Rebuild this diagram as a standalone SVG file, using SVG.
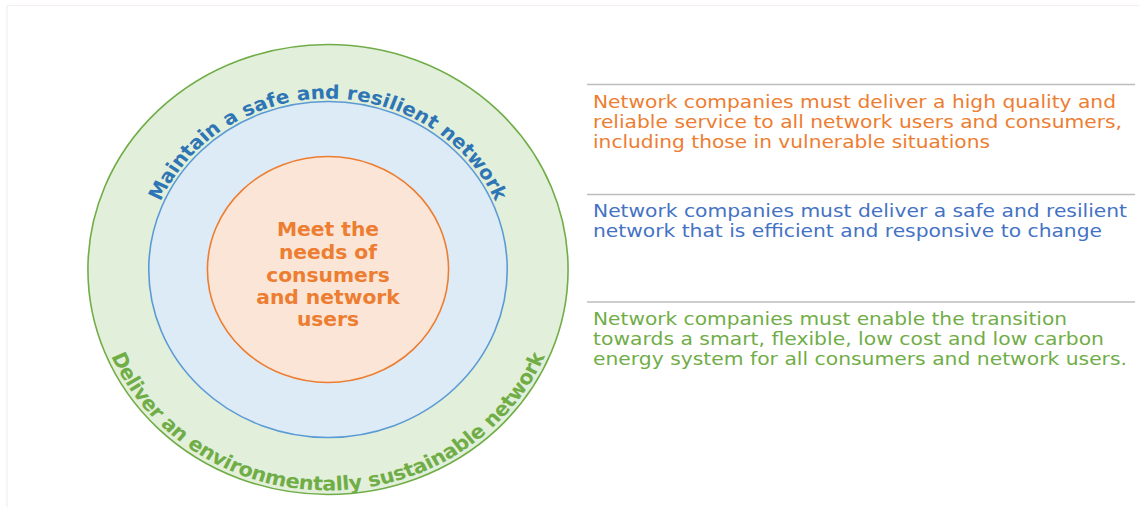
<svg xmlns="http://www.w3.org/2000/svg" width="1139" height="507" viewBox="0 0 1139 507">
<style>
.ring{stroke-width:1.5}
.arc{font-family:"DejaVu Sans",Verdana,sans-serif;font-weight:bold}
.core{font-family:"DejaVu Sans",Verdana,sans-serif;font-weight:bold;font-size:19px;fill:#ed7d31;text-anchor:middle}
.desc{font-family:"DejaVu Sans",Verdana,sans-serif;font-size:18.5px}
.sep{stroke:#bdbdbd;stroke-width:1.6}
</style>
<defs>
<path id="topArc" d="M -171 0 A 171 171 0 0 1 171 0"/>
<path id="botArc" d="M -221 0 A 221 221 0 0 0 221 0"/>
</defs>
<rect x="0" y="0" width="1139" height="507" fill="#ffffff"/>
<path d="M7 507 V5.5 H1139" fill="none" stroke="#f4eeec" stroke-width="1.2"/>
<g transform="translate(328,269.5) scale(1.067,1)">
<g id="ring-green">
<circle r="225" class="ring" fill="#e2efda" stroke="#70ad47"/>
<text class="arc" font-size="19.5" letter-spacing="-0.3" fill="#70ad47" text-anchor="middle"><textPath href="#botArc" startOffset="50%">Deliver an environmentally sustainable network</textPath></text>
</g>
<g id="ring-blue">
<circle r="168" class="ring" fill="#ddebf7" stroke="#5b9bd5"/>
<text class="arc" font-size="18.8" fill="#2e75b6" text-anchor="middle"><textPath href="#topArc" startOffset="50%">Maintain a safe and resilient network</textPath></text>
</g>
<g id="ring-orange">
<circle r="113" class="ring" fill="#fbe5d6" stroke="#ed7d31"/>
<text class="core"><tspan x="0" y="-33.5">Meet the</tspan><tspan x="0" y="-10.5">needs of</tspan><tspan x="0" y="12">consumers</tspan><tspan x="0" y="34.5">and network</tspan><tspan x="0" y="57">users</tspan></text>
</g>
</g>
<g id="connectors">
<line class="sep" x1="587" y1="84.5" x2="1135" y2="84.5"/>
<line class="sep" x1="587" y1="194.5" x2="1135" y2="194.5"/>
<line class="sep" x1="587" y1="302" x2="1135" y2="302"/>
</g>
<g id="desc-consumers">
<text class="desc" fill="#ed7d31" lengthAdjust="spacingAndGlyphs"><tspan x="593" y="107.5" textLength="523" lengthAdjust="spacingAndGlyphs">Network companies must deliver a high quality and</tspan><tspan x="593" y="127.5" textLength="529" lengthAdjust="spacingAndGlyphs">reliable service to all network users and consumers,</tspan><tspan x="593" y="147.5" textLength="397" lengthAdjust="spacingAndGlyphs">including those in vulnerable situations</tspan></text>
</g>
<g id="desc-resilient">
<text class="desc" fill="#4472c4"><tspan x="593" y="217" textLength="534" lengthAdjust="spacingAndGlyphs">Network companies must deliver a safe and resilient</tspan><tspan x="593" y="237" textLength="509" lengthAdjust="spacingAndGlyphs">network that is efficient and responsive to change</tspan></text>
</g>
<g id="desc-sustainable">
<text class="desc" fill="#70ad47"><tspan x="593" y="324.5" textLength="474" lengthAdjust="spacingAndGlyphs">Network companies must enable the transition</tspan><tspan x="593" y="344.5" textLength="511" lengthAdjust="spacingAndGlyphs">towards a smart, flexible, low cost and low carbon</tspan><tspan x="593" y="364.5" textLength="534" lengthAdjust="spacingAndGlyphs">energy system for all consumers and network users.</tspan></text>
</g>
</svg>
